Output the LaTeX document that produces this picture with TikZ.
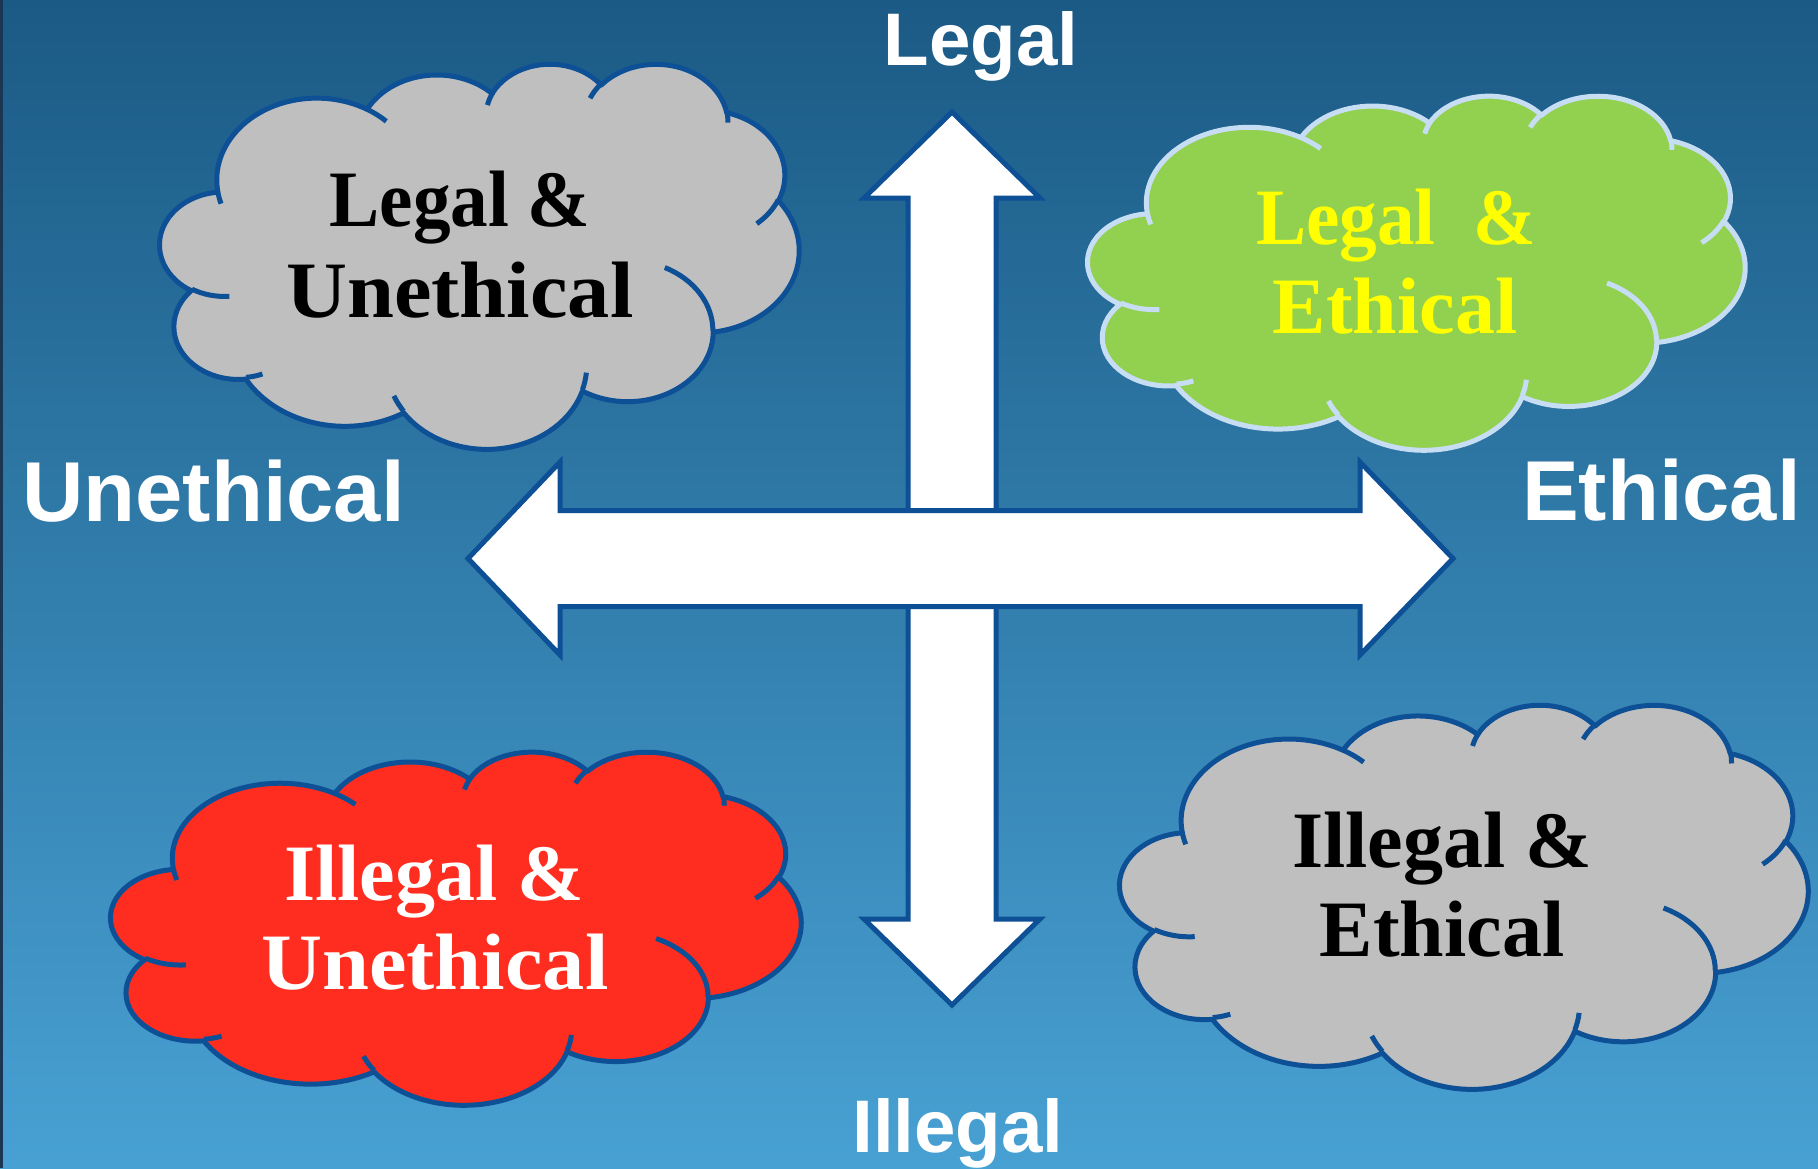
\documentclass[tikz,border=0pt]{standalone}
\usepackage{fontspec}
\setmainfont{Liberation Serif}
\setsansfont{Liberation Sans}
\definecolor{bgtop}{HTML}{1B5A85}
\definecolor{bgmid}{HTML}{3888B7}
\definecolor{bgbot}{HTML}{48A1D3}
\definecolor{edge}{HTML}{0E5096}
\definecolor{cloudgray}{HTML}{BFBFBF}
\definecolor{cloudgreen}{HTML}{92D050}
\definecolor{cloudred}{HTML}{FF2D1F}
\definecolor{lightedge}{HTML}{C6DDF4}
\definecolor{txtyellow}{HTML}{FFFF00}
\definecolor{leftline}{HTML}{1B3652}
% OOXML-like arcTo: radii, start angle (visual), sweep (deg)
\newcommand\ooarc[4]{arc[x radius=#1, y radius=#2, start angle={atan2(#1*sin(#3),#2*cos(#3))}, delta angle={mod(atan2(#1*sin(#3+#4),#2*cos(#3+#4))-atan2(#1*sin(#3),#2*cos(#3))+720,360)}]}
\newcommand\cloudoutline{(390,1437)
 \ooarc{675.3}{919.0}{-190.4875}{123.7805}
 \ooarc{533.3}{726.7}{-144.1024}{89.9452}
 \ooarc{436.5}{594.5}{-145.8079}{99.7230}
 \ooarc{485.7}{659.5}{-130.9861}{117.2417}
 \ooarc{533.3}{727.3}{-78.7089}{109.0269}
 \ooarc{677.5}{922.0}{-46.2673}{130.2690}
 \ooarc{578.5}{786.7}{0.6250}{114.0333}
 \ooarc{675.2}{921.5}{22.4516}{115.1726}
 \ooarc{772.0}{1054.3}{66.2426}{75.7110}
 \ooarc{436.0}{591.8}{-274.9421}{146.7356}
 \ooarc{434.5}{594.5}{-246.8285}{152.5189} -- cycle}
\newcommand\cloudinner{
 (469.3,2617.7) \ooarc{434.5}{594.5}{86.7420}{26.4295}
 (692.8,3489.9) \ooarc{436.0}{591.8}{73.6105}{11.4475}
 (1647.8,3909.0) \ooarc{675.2}{921.5}{137.6242}{14.0811}
 (2882.7,3475.1) \ooarc{675.2}{921.5}{6.4533}{15.9984}
 (3412.9,2295.4) \ooarc{578.5}{786.7}{-70.2924}{70.9174}
 (4179.8,1535.4) \ooarc{533.3}{727.3}{30.3180}{27.7515}
 (3832.4,542.6) \ooarc{485.7}{659.5}{-13.7443}{14.8589}
 (2907.8,395.2) \ooarc{485.7}{659.5}{-149.1815}{18.1954}
 (2214.1,472.0) \ooarc{436.5}{594.5}{-163.4943}{17.6864}
 (1400.0,519.2) \ooarc{675.3}{919.0}{-66.7070}{12.3194}
 (412.7,1578.9) \ooarc{675.3}{919.0}{157.6544}{11.8582}}
% #1 x0, #2 y0, #3 width, #4 height, #5 fill, #6 outline
\newcommand\drawcloud[6]{%
 \pgfmathsetmacro\cldx{#3/4320}\pgfmathsetmacro\cldy{#4/4320}%
 \begin{scope}[shift={(#1,#2)}, x=\cldx pt, y=-\cldy pt]
  \filldraw[cloudline, fill=#5, draw=#6] \cloudoutline;
  \draw[cloudline, draw=#6] \cloudinner;
 \end{scope}}
\newcommand\narrow[1]{\scalebox{0.94}[1]{#1}}
\newcommand\widen[1]{\scalebox{1.055}[1]{#1}}
\begin{document}
\begin{tikzpicture}[x=1pt, y=-1pt,
  cloudline/.style={line width=5pt, line join=round},
  bigarrow/.style={fill=white, draw=edge, line width=5pt, line join=miter},
  axislabel/.style={text=white, inner sep=0pt, font=\sffamily\bfseries\fontsize{#1}{#1}\selectfont},
  cloudtext/.style={inner sep=0pt, anchor=base, font=\rmfamily\bfseries\fontsize{80}{90}\selectfont}]
\useasboundingbox (0,0) rectangle (1818,1168);
\clip (0,0) rectangle (1818,1168);
\shade[top color=bgtop, middle color=bgmid, bottom color=bgbot] (0,0) rectangle (1818,1168);
\fill[leftline] (0,0) rectangle (2.5,1168);

% clouds
\drawcloud{160}{63}{639}{385}{cloudgray}{edge}
\drawcloud{1088}{95}{657}{354}{cloudgreen}{lightedge}
\drawcloud{111}{751}{690}{353}{cloudred}{edge}
\drawcloud{1120}{704}{688}{384}{cloudgray}{edge}

% arrows
\draw[bigarrow] (952,112) -- (1040,198) -- (996,198) -- (996,919) -- (1040,919)
  -- (952,1005) -- (864,919) -- (908,919) -- (908,198) -- (864,198) -- cycle;
\draw[bigarrow] (468,558.5) -- (560,462) -- (560,510.5) -- (1360,510.5) -- (1360,462)
  -- (1453,558.5) -- (1360,655) -- (1360,606.5) -- (560,606.5) -- (560,655) -- cycle;

% axis labels
\node[axislabel=74.5, anchor=base] (legal) at (981,65) {Legal};
\node[axislabel=74.5, anchor=base] (illegal) at (958,1152) {Illegal};
\node[axislabel=85, anchor=base west] (unethical) at (22,521) {Unethical};
\node[axislabel=85, anchor=base east] (ethical) at (1801,520) {Ethical};

% cloud texts
\node[cloudtext, text=black] (c1a) at (460,226) {\narrow{Legal \&}};
\node[cloudtext, text=black] (c1b) at (460,317) {\widen{Unethical}};
\node[cloudtext, text=txtyellow] (c2a) at (1396,244) {\narrow{Legal\ \ \&}};
\node[cloudtext, text=txtyellow] (c2b) at (1395,333) {Ethical};
\node[cloudtext, text=white] (c3a) at (434,900) {Illegal \&};
\node[cloudtext, text=white] (c3b) at (435,989) {\widen{Unethical}};
\node[cloudtext, text=black] (c4a) at (1442,867) {Illegal \&};
\node[cloudtext, text=black] (c4b) at (1442,956) {Ethical};
\end{tikzpicture}
\end{document}
